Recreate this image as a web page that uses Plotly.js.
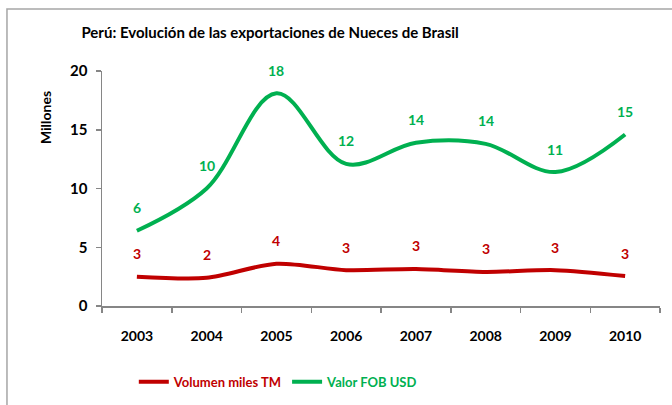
<!DOCTYPE html>
<html>
<head>
<meta charset="utf-8">
<script src="https://cdn.plot.ly/plotly-3.0.1.min.js"></script>
<style>
html,body{margin:0;padding:0;background:#fff;}
#chart{width:672px;height:405px;}
</style>
</head>
<body>
<div id="chart"></div>
<script>
const years = ['2003','2004','2005','2006','2007','2008','2009','2010'];
const volumen = [2.5, 2.4, 3.6, 3.05, 3.15, 2.9, 3.05, 2.55];
const volumenLabels = ['3','2','4','3','3','3','3','3'];
const valor = [6.4, 10.0, 18.1, 12.1, 13.9, 13.8, 11.4, 14.6];
const valorLabels = ['6','10','18','12','14','14','11','15'];
const yTicks = [0, 5, 10, 15, 20];

const FONT = 'Lato, "Open Sans", sans-serif';
const RED = '#c00000';
const GREEN = '#00b050';

const traces = [
  {
    x: years, y: volumen, type: 'scatter', mode: 'lines',
    name: '<b><span style="color:' + RED + '">Volumen miles TM</span></b>',
    line: {color: RED, width: 4, shape: 'spline', smoothing: 0.8}
  },
  {
    x: years, y: valor, type: 'scatter', mode: 'lines',
    name: '<b><span style="color:' + GREEN + '">Valor FOB USD</span></b>',
    line: {color: GREEN, width: 4, shape: 'spline', smoothing: 1}
  }
];

const annotations = [];
years.forEach((yr, i) => {
  annotations.push({x: i, y: valor[i], xref: 'x', yref: 'y', text: '<b>' + valorLabels[i] + '</b>',
    showarrow: false, yshift: 23, font: {family: FONT, size: 14, color: GREEN}});
  annotations.push({x: i, y: volumen[i], xref: 'x', yref: 'y', text: '<b>' + volumenLabels[i] + '</b>',
    showarrow: false, yshift: 23, font: {family: FONT, size: 14, color: RED}});
});
annotations.push({
  text: '<b>Millones</b>', xref: 'paper', yref: 'paper', x: -0.102, y: 0.8,
  xanchor: 'center', yanchor: 'middle',
  showarrow: false, textangle: -90, font: {family: FONT, size: 14, color: '#000'}
});

const layout = {
  width: 672, height: 405,
  margin: {l: 102, r: 12, t: 71, b: 99},
  paper_bgcolor: '#fff', plot_bgcolor: '#fff',
  font: {family: FONT, color: '#000'},
  title: {
    text: '<b>Perú: Evolución de las exportaciones de Nueces de Brasil</b>',
    font: {family: FONT, size: 15, color: '#000'},
    x: 0.402, xanchor: 'center', xref: 'container',
    y: 0.92, yanchor: 'middle', yref: 'container'
  },
  xaxis: {
    type: 'category', range: [-0.5, 7.5],
    showline: true, linecolor: '#868686', linewidth: 1.5,
    ticks: 'outside', tickson: 'boundaries', ticklen: 5, tickcolor: '#868686', tickwidth: 1.5,
    showgrid: false, zeroline: false, fixedrange: true,
    tickfont: {family: FONT, size: 14, color: '#000', weight: 'bold'},
    ticklabelstandoff: 17
  },
  yaxis: {
    range: [0, 20], tickvals: yTicks, ticktext: yTicks.map(v => '<b>' + v + '</b>'),
    showline: true, linecolor: '#868686', linewidth: 1.5,
    ticks: 'outside', ticklen: 5, tickcolor: '#868686', tickwidth: 1.5,
    showgrid: false, zeroline: false, fixedrange: true,
    ticklabelstandoff: 5,
    tickfont: {family: FONT, size: 15, color: '#000'}
  },
  legend: {
    orientation: 'h', x: 0.057, xanchor: 'left', xref: 'paper',
    y: 0.057, yanchor: 'middle', yref: 'container',
    font: {family: FONT, size: 13}, itemwidth: 30, tracegroupgap: 0,
    bgcolor: 'rgba(0,0,0,0)'
  },
  showlegend: true,
  annotations: annotations,
  shapes: [{
    type: 'path', xref: 'paper', yref: 'paper',
    path: 'M -0.1703 -0.5 L -0.1703 1.264 L 1.05 1.264',
    line: {color: '#a6a6a6', width: 1.5}
  }]
};

Plotly.newPlot('chart', traces, layout, {displayModeBar: false, staticPlot: true});
</script>
</body>
</html>
